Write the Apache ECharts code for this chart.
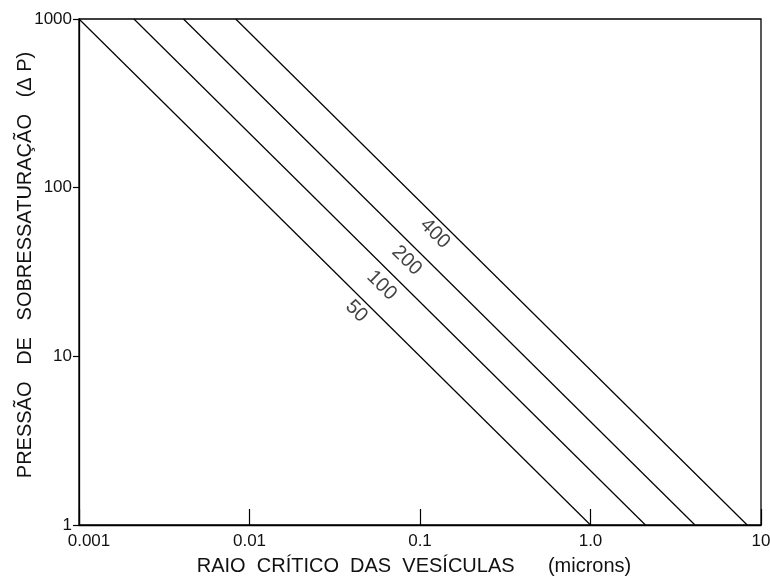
<!DOCTYPE html>
<html>
<head>
<meta charset="utf-8">
<script src="https://cdn.jsdelivr.net/npm/echarts@6/dist/echarts.min.js"></script>
<style>
  html, body { margin: 0; padding: 0; background: #fff; }
  #chart { width: 770px; height: 576px; }
</style>
</head>
<body>
<div id="chart"></div>
<script>
// Supersaturation pressure vs. critical vesicle radius (log-log)
const xTickLabels = ['0.001', '0.01', '0.1', '1.0', '10'];
const yTickLabels = ['1', '10', '100', '1000'];

// Each curve: radius at ΔP = 1000 and at ΔP = 1
const curveNames = ['50', '100', '200', '400'];
const curveRadiusTop = [0.001, 0.0021, 0.0041, 0.0083];
const curveRadiusBottom = [1.0, 2.1, 4.1, 8.3];
const pressureTop = 1000;
const pressureBottom = 1;

// Where each curve's value label sits (radius, pressure)
const labelRadius = [0.0424, 0.0596, 0.0836, 0.1225];
const labelPressure = [18.5, 26.3, 37.0, 53.4];

const FONT = '"Liberation Sans", Arial, sans-serif';
const INK = '#111';

const lineSeries = curveNames.map((name, i) => ({
  name: name,
  type: 'line',
  showSymbol: false,
  silent: true,
  lineStyle: { color: '#000', width: 1.2 },
  data: [
    [curveRadiusTop[i], pressureTop],
    [curveRadiusBottom[i], pressureBottom]
  ]
}));

const labelSeries = {
  type: 'scatter',
  symbolSize: 0,
  silent: true,
  data: curveNames.map((name, i) => [labelRadius[i], labelPressure[i], name]),
  label: {
    show: true,
    position: 'inside',
    rotate: -44.6,
    formatter: p => p.data[2],
    fontFamily: FONT,
    fontSize: 20,
    color: INK
  }
};

function decadeIndex(v, minExp) {
  return Math.round(Math.log10(v)) - minExp;
}

const chart = echarts.init(document.getElementById('chart'), null, { renderer: 'canvas' });
chart.setOption({
  animation: false,
  backgroundColor: '#fff',
  grid: {
    left: 79, right: 9, top: 19, bottom: 51,
    outerBoundsMode: 'none',
    containLabel: false,
    show: true, borderColor: '#000', borderWidth: 1.3, backgroundColor: 'transparent'
  },
  xAxis: {
    type: 'log',
    logBase: 10,
    min: 0.001,
    max: 10,
    name: 'RAIO  CRÍTICO  DAS  VESÍCULAS      (microns)',
    nameLocation: 'middle',
    nameGap: 31,
    nameMoveOverlap: false,
    nameTextStyle: { fontFamily: FONT, fontSize: 20, color: INK, padding: [0, 12, 0, 0] },
    axisLine: { lineStyle: { color: '#000', width: 1.3 } },
    axisTick: { show: true, inside: true, length: 16, lineStyle: { color: '#000', width: 1.2 } },
    minorTick: { show: false },
    splitLine: { show: false },
    axisLabel: {
      fontFamily: FONT,
      fontSize: 17,
      color: INK,
      margin: 8,
      formatter: v => {
        const idx = decadeIndex(v, -3);
        const t = xTickLabels[idx];
        return idx === 0 ? '{first|' + t + '}' : t;
      },
      rich: {
        first: { fontFamily: FONT, fontSize: 17, color: INK, padding: [0, 0, 0, 20] }
      }
    }
  },
  yAxis: {
    type: 'log',
    logBase: 10,
    min: 1,
    max: 1000,
    name: 'PRESSÃO   DE   SOBRESSATURAÇÃO   (Δ P)',
    nameLocation: 'middle',
    nameGap: 44,
    nameMoveOverlap: false,
    nameTextStyle: { fontFamily: FONT, fontSize: 20, color: INK, padding: [0, 0, 0, 14] },
    axisLine: { lineStyle: { color: '#000', width: 1.3 } },
    axisTick: { show: true, inside: false, length: 6, lineStyle: { color: '#000', width: 1.2 } },
    minorTick: { show: false },
    splitLine: { show: false },
    axisLabel: {
      fontFamily: FONT,
      fontSize: 17,
      color: INK,
      margin: 7,
      formatter: v => yTickLabels[decadeIndex(v, 0)]
    }
  },
  series: [...lineSeries, labelSeries]
});
</script>
</body>
</html>
